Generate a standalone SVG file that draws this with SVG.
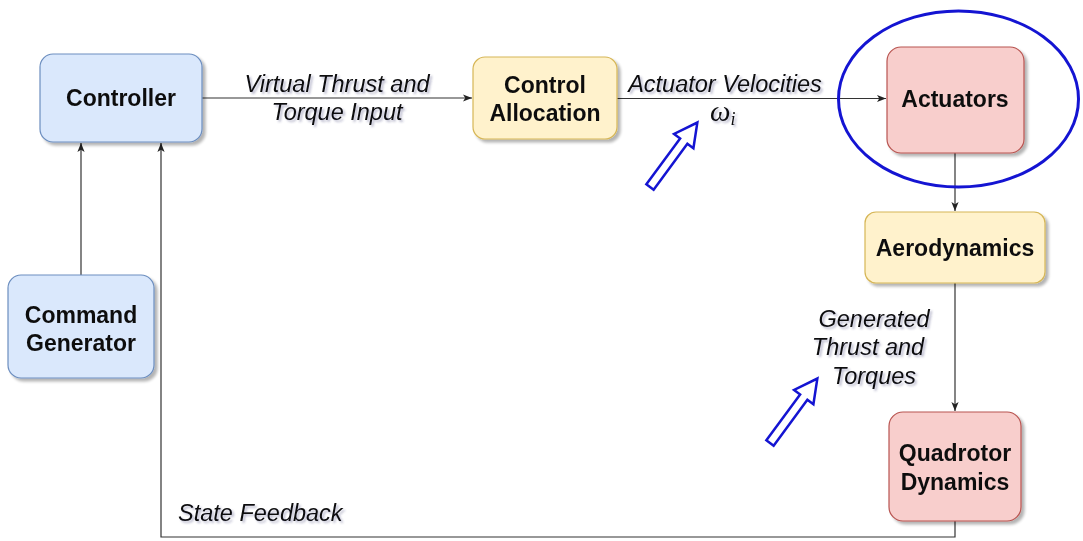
<svg xmlns="http://www.w3.org/2000/svg" width="1083" height="541" viewBox="0 0 1083 541">
  <defs>
    <filter id="boxShadow" x="-10%" y="-10%" width="130%" height="130%">
      <feGaussianBlur in="SourceAlpha" stdDeviation="1.8"/>
      <feOffset dx="2.5" dy="3" result="b"/>
      <feComponentTransfer><feFuncA type="linear" slope="0.3"/></feComponentTransfer>
      <feMerge><feMergeNode/><feMergeNode in="SourceGraphic"/></feMerge>
    </filter>
    <filter id="textShadow" x="-10%" y="-30%" width="120%" height="160%">
      <feGaussianBlur in="SourceAlpha" stdDeviation="1.3"/>
      <feOffset dx="1.5" dy="2" result="b"/>
      <feFlood flood-color="#3a3a70" flood-opacity="0.35"/>
      <feComposite in2="b" operator="in"/>
      <feMerge><feMergeNode/><feMergeNode in="SourceGraphic"/></feMerge>
    </filter>
    <marker id="arrow" viewBox="0 0 10 10" refX="10" refY="5" markerWidth="9" markerHeight="9" markerUnits="userSpaceOnUse" orient="auto">
      <path d="M0,1 L10,5 L0,9 L2.5,5 Z" fill="#222"/>
    </marker>
    <polygon id="hollowArrow" points="0,-4.5 57,-4.5 57,-12 80,0 57,12 57,4.5 0,4.5"/>
  </defs>
  <style>
    .blue { fill: #dae8fc; stroke: #6c8ebf; stroke-width: 1.2; }
    .yellow { fill: #fff2cc; stroke: #d6b656; stroke-width: 1.2; }
    .red { fill: #f8cecc; stroke: #b85450; stroke-width: 1.2; }
    .node { filter: url(#boxShadow); }
    .title { font-family: "Liberation Sans", Arial, sans-serif; font-weight: bold; font-size: 23px; fill: #111; text-anchor: middle; }
    .label { font-family: "Liberation Sans", Arial, sans-serif; font-style: italic; font-size: 23.5px; fill: #111; text-anchor: middle; filter: url(#textShadow); }
    .edge { fill: none; stroke: #333; stroke-width: 1.2; }
    .callout { fill: #fff; stroke: #1414d2; stroke-width: 2.5; stroke-linejoin: miter; }
  </style>

  <rect width="1083" height="541" fill="#fff"/>

  <!-- connectors -->
  <g id="connectors">
    <line class="edge" x1="202" y1="98" x2="472" y2="98" marker-end="url(#arrow)"/>
    <line class="edge" x1="617" y1="98.5" x2="886" y2="98.5" marker-end="url(#arrow)"/>
    <line class="edge" x1="81" y1="275" x2="81" y2="143" marker-end="url(#arrow)"/>
    <line class="edge" x1="955" y1="153" x2="955" y2="211" marker-end="url(#arrow)"/>
    <line class="edge" x1="955" y1="283" x2="955" y2="411" marker-end="url(#arrow)"/>
    <polyline class="edge" points="955,521 955,537 161,537 161,143" marker-end="url(#arrow)"/>
  </g>

  <!-- edge labels -->
  <g id="edge-labels">
    <text class="label" x="337" y="92">Virtual Thrust and</text>
    <text class="label" x="337" y="120">Torque Input</text>
    <text class="label" x="725" y="92">Actuator Velocities</text>
    <text x="710" y="121" font-family="'Liberation Serif', 'DejaVu Serif', serif" font-style="italic" font-size="29" fill="#111" filter="url(#textShadow)">ω<tspan font-size="18" dy="4">i</tspan></text>
    <text class="label" x="874" y="327">Generated</text>
    <text class="label" x="868" y="355">Thrust and</text>
    <text class="label" x="874" y="384">Torques</text>
    <text class="label" x="178" y="521" style="text-anchor:start">State Feedback</text>
  </g>

  <!-- nodes -->
  <g id="controller" class="node">
    <rect class="blue" x="40" y="54" width="162" height="88" rx="13"/>
    <text class="title" x="121" y="106">Controller</text>
  </g>
  <g id="command-generator" class="node">
    <rect class="blue" x="8" y="275" width="146" height="103" rx="13"/>
    <text class="title" x="81" y="323">Command</text>
    <text class="title" x="81" y="351">Generator</text>
  </g>
  <g id="control-allocation" class="node">
    <rect class="yellow" x="473" y="57" width="144" height="82" rx="12"/>
    <text class="title" x="545" y="93">Control</text>
    <text class="title" x="545" y="121">Allocation</text>
  </g>
  <g id="actuators" class="node">
    <rect class="red" x="887" y="47" width="137" height="106" rx="14"/>
    <text class="title" x="955" y="107">Actuators</text>
  </g>
  <g id="aerodynamics" class="node">
    <rect class="yellow" x="865" y="212" width="180" height="71" rx="11"/>
    <text class="title" x="955" y="256">Aerodynamics</text>
  </g>
  <g id="quadrotor-dynamics" class="node">
    <rect class="red" x="889" y="412" width="132" height="109" rx="14"/>
    <text class="title" x="955" y="461">Quadrotor</text>
    <text class="title" x="955" y="490">Dynamics</text>
  </g>

  <!-- highlight ring round the actuators block -->
  <g id="highlight">
    <ellipse cx="958.5" cy="99" rx="120" ry="88" fill="none" stroke="#1414d2" stroke-width="3"/>
  </g>

  <!-- hollow pointer arrows -->
  <g id="pointers">
    <use href="#hollowArrow" class="callout" transform="translate(650,187) rotate(-53.7)"/>
    <use href="#hollowArrow" class="callout" transform="translate(770,443) rotate(-53.7)"/>
  </g>
</svg>
